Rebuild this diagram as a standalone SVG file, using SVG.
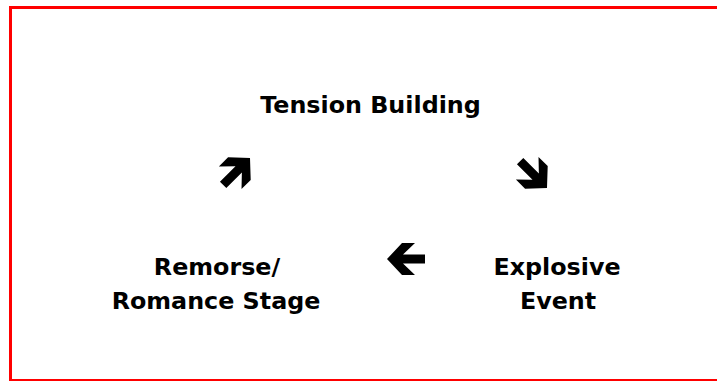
<svg xmlns="http://www.w3.org/2000/svg" width="717" height="381" viewBox="0 0 717 381">
<defs>
<style>
.lbl{font-family:"DejaVu Sans","Verdana",sans-serif;font-weight:bold;font-size:23.8px;fill:#000;text-anchor:middle}
.arw{fill:#000}
</style>
<path id="arrowShape" d="M0,0 L-15,-16 L-28,-16 L-16,-4.5 L-38,-4.5 L-38,4.5 L-16,4.5 L-28,16 L-15,16 Z"/>
</defs>
<rect x="0" y="0" width="717" height="381" fill="#fff"/>
<rect x="10.5" y="7.5" width="720" height="373" fill="none" stroke="#ff0000" stroke-width="3"/>
<g id="node-tension">
<text class="lbl" x="370.5" y="112.5">Tension Building</text>
</g>
<g id="node-explosive">
<text class="lbl" x="557" y="274.5">Explosive</text>
<text class="lbl" x="558" y="308.5">Event</text>
</g>
<g id="node-remorse">
<text class="lbl" x="217" y="274.5">Remorse/</text>
<text class="lbl" x="216" y="308.5">Romance Stage</text>
</g>
<g id="connectors" class="arw">
<use href="#arrowShape" transform="translate(547,188) rotate(45)"/>
<use href="#arrowShape" transform="translate(387,259) rotate(180)"/>
<use href="#arrowShape" transform="translate(250,158) rotate(-45)"/>
</g>
</svg>
